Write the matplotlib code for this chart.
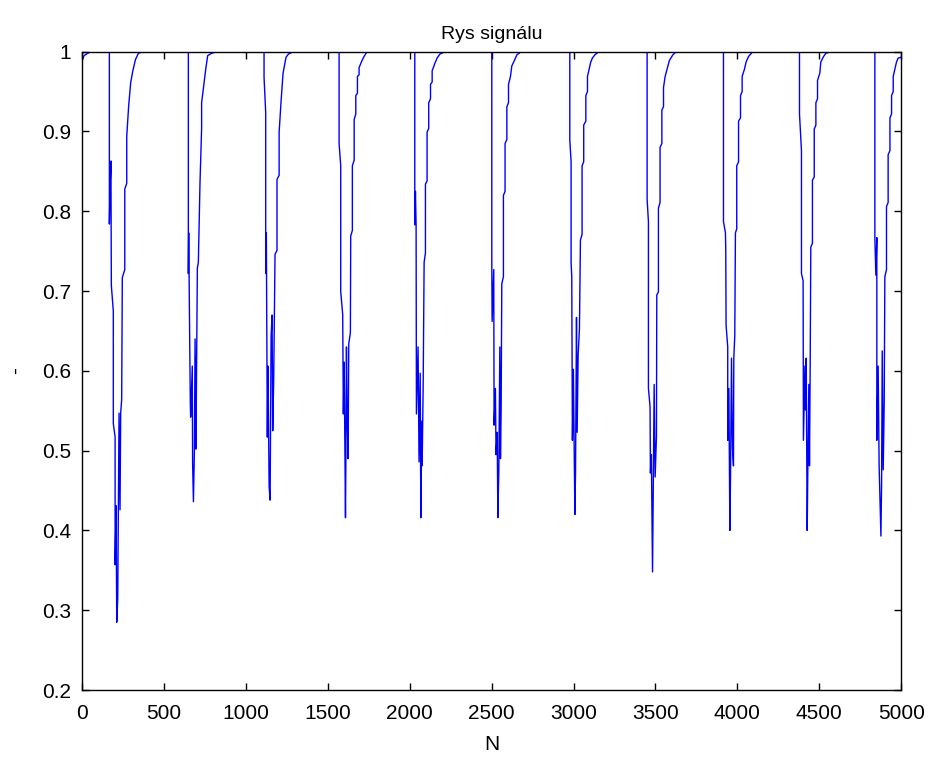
import matplotlib
matplotlib.use("Agg")
import matplotlib.pyplot as plt
from matplotlib.ticker import FuncFormatter
import numpy as np

# -------------------------------------------------------------
# data: signal start + one vertex list per dip
# (offsets in samples from the drop position, values of the signal)
# -------------------------------------------------------------
start_n = [0, 12, 50]
start_v = [0.988, 0.995, 1.0]

dip_pos = [167, 649, 1111, 1569, 2031, 2501, 2977, 3449, 3915, 4379, 4839]

dip_off = [
    [0, 0, 4, 10, 10, 12, 24, 24, 35, 35, 41, 45, 51, 59, 65, 69, 75, 79, 94, 94,
     106, 106, 118, 130, 142, 159, 177, 208],
    [0, 0, 2, 12, 14, 24, 26, 31, 37, 41, 47, 49, 55, 61, 71, 71, 81, 81, 96, 106,
     118, 142, 173],
    [0, 0, 10, 10, 14, 20, 24, 31, 37, 43, 49, 53, 59, 67, 79, 79, 92, 92, 104, 116,
     134, 149, 179],
    [0, 0, 10, 10, 22, 26, 31, 39, 41, 45, 49, 55, 59, 69, 71, 81, 81, 92, 92, 102,
     102, 112, 112, 122, 122, 136, 147, 167, 181],
    [0, 0, 4, 8, 10, 20, 26, 33, 37, 41, 45, 51, 57, 65, 65, 75, 75, 85, 85, 96, 96,
     106, 106, 122, 136, 153, 183],
    [0, 0, 2, 12, 14, 22, 26, 33, 37, 43, 49, 53, 57, 61, 71, 71, 81, 81, 92, 92,
     102, 102, 114, 122, 138, 153, 179],
    [0, 0, 8, 8, 12, 16, 22, 31, 35, 41, 45, 51, 59, 65, 75, 75, 85, 85, 98, 98,
     108, 108, 118, 128, 138, 153, 177],
    [0, 0, 8, 8, 18, 20, 26, 33, 37, 43, 49, 57, 59, 69, 69, 79, 79, 90, 90, 100,
     100, 110, 122, 136, 157, 177],
    [0, 0, 12, 14, 16, 26, 26, 33, 39, 43, 49, 55, 61, 63, 69, 73, 81, 81, 92, 92,
     104, 104, 114, 114, 128, 138, 153, 179],
    [0, 0, 12, 12, 22, 24, 33, 37, 41, 47, 51, 57, 61, 65, 69, 79, 79, 90, 90, 100,
     100, 110, 110, 124, 130, 147, 161, 191],
    [0, 0, 6, 12, 12, 20, 26, 37, 41, 45, 51, 57, 61, 71, 71, 81, 81, 92, 92, 102,
     102, 112, 112, 122, 132, 142, 161],
]

dip_val = [
    [1.0, 0.784, 0.830, 0.863, 0.828, 0.707, 0.675, 0.534, 0.517, 0.357, 0.431, 0.285,
     0.315, 0.547, 0.426, 0.547, 0.564, 0.717, 0.727, 0.828, 0.835, 0.894, 0.933,
     0.961, 0.975, 0.990, 0.998, 1.0],
    [1.0, 0.722, 0.773, 0.559, 0.542, 0.606, 0.485, 0.436, 0.502, 0.640, 0.502, 0.574,
     0.729, 0.736, 0.830, 0.835, 0.904, 0.936, 0.961, 0.978, 0.995, 0.998, 1.0],
    [1.0, 0.968, 0.924, 0.722, 0.773, 0.517, 0.606, 0.455, 0.438, 0.643, 0.670, 0.525,
     0.591, 0.746, 0.751, 0.840, 0.845, 0.899, 0.938, 0.973, 0.993, 0.997, 1.0],
    [1.0, 0.885, 0.857, 0.699, 0.671, 0.546, 0.611, 0.416, 0.476, 0.630, 0.546, 0.490,
     0.634, 0.648, 0.769, 0.776, 0.857, 0.864, 0.915, 0.922, 0.945, 0.948, 0.969,
     0.971, 0.980, 0.987, 0.992, 0.999, 1.0],
    [1.0, 0.783, 0.825, 0.783, 0.546, 0.630, 0.486, 0.597, 0.416, 0.537, 0.481, 0.579,
     0.736, 0.748, 0.834, 0.838, 0.899, 0.904, 0.936, 0.941, 0.959, 0.962, 0.976,
     0.985, 0.992, 0.997, 1.0],
    [1.0, 0.736, 0.662, 0.727, 0.532, 0.578, 0.495, 0.523, 0.416, 0.476, 0.630, 0.490,
     0.551, 0.709, 0.718, 0.820, 0.825, 0.885, 0.890, 0.931, 0.936, 0.959, 0.969,
     0.982, 0.989, 0.996, 1.0],
    [1.0, 0.890, 0.862, 0.736, 0.718, 0.513, 0.602, 0.420, 0.472, 0.667, 0.523, 0.620,
     0.653, 0.764, 0.771, 0.857, 0.862, 0.908, 0.913, 0.945, 0.950, 0.969, 0.978,
     0.987, 0.992, 0.996, 1.0],
    [1.0, 0.815, 0.787, 0.578, 0.555, 0.472, 0.495, 0.348, 0.444, 0.583, 0.467, 0.518,
     0.695, 0.699, 0.804, 0.811, 0.880, 0.885, 0.927, 0.931, 0.955, 0.969, 0.978,
     0.989, 0.996, 1.0],
    [1.0, 0.787, 0.773, 0.750, 0.657, 0.630, 0.513, 0.578, 0.400, 0.467, 0.616, 0.504,
     0.481, 0.616, 0.644, 0.773, 0.778, 0.857, 0.862, 0.913, 0.917, 0.945, 0.950,
     0.969, 0.978, 0.987, 0.994, 1.0],
    [1.0, 0.922, 0.876, 0.722, 0.713, 0.513, 0.606, 0.551, 0.616, 0.400, 0.481, 0.583,
     0.481, 0.597, 0.755, 0.760, 0.839, 0.843, 0.903, 0.908, 0.936, 0.941, 0.964,
     0.973, 0.987, 0.994, 0.998, 1.0],
    [1.0, 0.767, 0.720, 0.767, 0.513, 0.606, 0.481, 0.393, 0.458, 0.625, 0.476, 0.560,
     0.718, 0.727, 0.806, 0.811, 0.871, 0.876, 0.917, 0.922, 0.945, 0.950, 0.969,
     0.978, 0.987, 0.992, 0.993],
]

x_ticks = [0, 500, 1000, 1500, 2000, 2500, 3000, 3500, 4000, 4500, 5000]
y_ticks = [0.2, 0.3, 0.4, 0.5, 0.6, 0.7, 0.8, 0.9, 1.0]

# -------------------------------------------------------------
# assemble the series
# -------------------------------------------------------------
xs = list(start_n)
ys = list(start_v)
for pos, off, val in zip(dip_pos, dip_off, dip_val):
    xs.extend(pos + np.array(off))
    ys.extend(val)

plt.rcParams['font.family'] = ['Liberation Sans', 'DejaVu Sans']

fig = plt.figure(figsize=(9.32, 7.60), dpi=100)
ax = fig.add_axes([0.088, 0.092, 0.879, 0.840])
ax.plot(xs, ys, color='#0000ff', lw=1.0)

ax.set_xlim(0, 5000)
ax.set_ylim(0.2, 1.0)
ax.set_xticks(x_ticks)
ax.set_yticks(y_ticks)
ax.yaxis.set_major_formatter(FuncFormatter(lambda v, p: f"{v:g}"))
ax.tick_params(direction='in', top=True, right=True, length=5, width=1,
               labelsize=15)
ax.tick_params(axis='x', pad=10)
ax.tick_params(axis='y', pad=8)
for s in ax.spines.values():
    s.set_linewidth(1)

ax.set_title("Rys signálu", fontsize=14, pad=9)
ax.set_xlabel("N", fontsize=15, labelpad=9)
ax.set_ylabel("-", fontsize=15, labelpad=12)

fig.savefig("out.png", dpi=100, facecolor='white')
